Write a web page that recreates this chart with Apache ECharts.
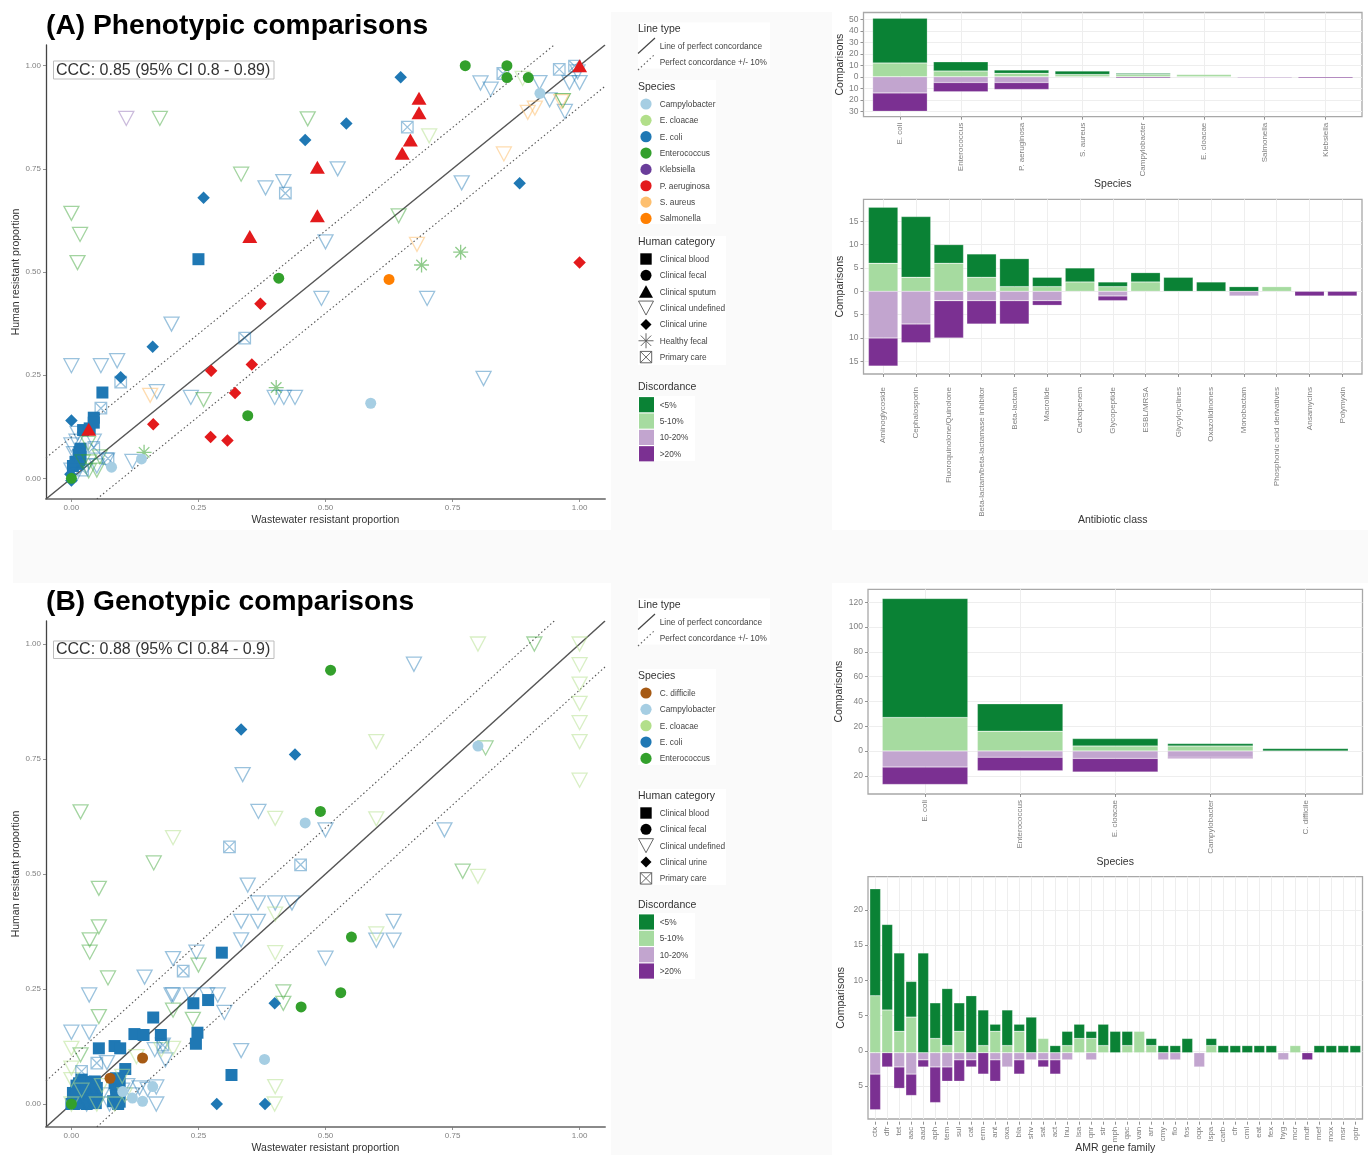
<!DOCTYPE html>
<html><head><meta charset="utf-8">
<style>html,body{margin:0;padding:0;background:#fff}#c{width:1368px;height:1155px}</style>
<script src="https://cdn.jsdelivr.net/npm/echarts@6/dist/echarts.min.js"></script>
</head><body><div id="c"></div>
<script>
// ---------- Panel A scatter values: [wastewater, human] ----------
const A_coli_undefined=[[.382,.704],[.417,.719],[.805,.958],[.825,.943],[.921,.959],[.941,.917],[.971,.889],[.98,.959],[1,.959],[.996,.985],[.524,.75],[.768,.716],[.5,.573],[.492,.436],[.7,.436],[.811,.242],[.197,.374],[0,.273],[.058,.273],[.09,.285],[.168,.21],[.235,.196],[.4,.196],[.418,.196],[.44,.196],[.12,.041],[0,.081],[.012,.109],[.01,.09],[0,.02],[.07,.044],[.044,.09],[.03,.03],[.01,.01],[.05,.03],[.005,.06]];
const A_cloacae_undefined=[[0,.642],[.017,.591],[.012,.523],[.174,.872],[.334,.737],[.465,.871],[.644,.636],[.26,.191],[.033,.085],[.022,.04],[.034,.018],[.05,.02],[.035,.04],[.056,.052]];
const A_cloacae_undefined_pale=[[.704,.83],[.888,.969]];
const A_entero_undefined=[[.967,.915]];
const A_kleb_undefined=[[.108,.872]];
const A_aureus_undefined=[[.898,.887],[.912,.897],[.964,.913],[.851,.786],[.68,.567],[.155,.201]];
const A_coli_primary=[[.849,.981],[.96,.991],[.99,.999],[.661,.851],[.421,.691],[.341,.34],[.097,.233],[.058,.17],[.044,.075],[.072,.048],[.022,.02]];
const A_coli_blood=[[.25,.531],[.061,.208],[.044,.147],[.023,.117],[.036,.121],[.044,.135],[.003,.03],[.016,.064],[.018,.052],[.012,.035],[.016,.044],[.018,.072],[.014,.057],[.008,.04]];
const A_coli_urine=[[.648,.972],[.541,.86],[.46,.82],[.882,.715],[.26,.68],[.16,.319],[.097,.245],[0,.14],[0,-.005],[-.002,.01]];
const A_paer_sputum=[[1,1],[.684,.921],[.684,.886],[.667,.82],[.651,.788],[.484,.754],[.484,.636],[.351,.586],[.034,.119]];
const A_paer_urine=[[1,.523],[.372,.423],[.275,.261],[.355,.276],[.322,.207],[.161,.131],[.274,.1],[.307,.092]];
const A_entero_fecal=[[.775,1],[.857,1],[.857,.971],[.899,.971],[.408,.485],[.347,.152],[0,0]];
const A_campy_fecal=[[.922,.933],[.589,.182],[.138,.047],[.079,.027]];
const A_salm_fecal=[[.625,.482]];
const A_entero_healthy=[[.766,.548],[.689,.517],[.403,.22],[.143,.063]];

// ---------- Panel B scatter values ----------
const B_coli_undefined=[[.674,.956],[.337,.716],[.368,.636],[.5,.596],[.734,.596],[.634,.397],[.6,.356],[.634,.356],[.5,.317],[.347,.476],[.367,.437],[.401,.437],[.434,.437],[.334,.397],[.367,.397],[.334,.357],[.246,.33],[.2,.316],[.144,.276],[.035,.237],[.197,.237],[.2,.237],[.235,.237],[.267,.237],[.288,.237],[.301,.199],[0,.156],[.035,.156],[.334,.116],[.167,0],[.167,.037],[.18,.128],[.164,.118],[.185,.096],[.134,.035],[.12,.02],[.15,.032],[.07,.09],[.1,.03],[.06,.02],[.03,.0],[.09,.015],[.11,.04],[.075,.0],[.045,.03]];
const B_cloacae_undefined=[[.018,.635],[.162,.524],[.054,.469],[.054,.385],[.036,.357],[.036,.33],[.072,.274],[.054,.19],[.25,.302],[.239,.184],[.417,.244],[.417,.219],[.911,1],[.77,.506],[.815,.774],[.2,.204],[.018,.107]];
const B_cloacae_undefined_pale=[[.8,1],[1,1],[1,.955],[1,.913],[1,.871],[1,.829],[1,.788],[1,.704],[.6,.788],[.6,.62],[.8,.495],[.6,.37],[.401,.621],[.2,.579],[.401,.413],[.401,.329],[.401,.038],[.4,0],[0,.121],[0,.078],[0,.053],[.2,.121],[.177,.118],[.128,.103],[0,.0],[.05,0],[.085,.0],[.105,.02],[.06,.04],[.1,.06],[.02,.03]];
const B_coli_primary=[[.311,.559],[.451,.52],[.22,.289],[.05,.089],[.02,.071],[.18,.128]];
const B_coli_blood=[[.296,.329],[.269,.226],[.24,.219],[.161,.188],[.248,.155],[.176,.15],[.124,.152],[.142,.15],[.245,.131],[.054,.121],[.085,.126],[.096,.121],[.106,.076],[.315,.063],[.046,.049],[.02,.053],[.003,.024],[.088,.056],[.088,.036],[.092,0],[.082,.006],[.005,0],[.01,.012],[.015,.022],[.02,.002],[.022,.032],[.026,.012],[.03,.022],[.03,0],[.035,.035],[.04,.01],[.04,.025],[.045,.04],[.05,.02],[.048,.002],[.01,.04],[.015,.045],[.028,.048],[.038,.002],[.012,.002],[0,0],[.005,.015],[.01,.03],[.02,.015],[.035,.02],[.045,.015],[.03,.035],[.04,.045],[.05,.035],[.088,.018],[.095,.005],[.085,.045],[.095,.05]];
const B_coli_urine=[[.334,.814],[.44,.76],[.4,.219],[.286,0],[.381,0]];
const B_entero_fecal=[[.51,.943],[.49,.636],[.551,.363],[.53,.242],[.452,.211],[0,0]];
const B_campy_fecal=[[.8,.778],[.46,.611],[.38,.097],[.16,.038],[.14,.006],[.12,.013],[.101,.027]];
const B_cdiff_fecal=[[.14,.1],[.076,.056]];

// ---------- Reference lines ----------
const perfectLine=[[-.05,-.05],[1.05,1.05]];
const upperLine=[[-.05,.05],[.95,1.05]];
const lowerLine=[[.05,-.05],[1.05,.95]];

// ---------- Bars: <5%, 5-10% above zero; 10-20%, >20% below zero ----------
const A_species=['E. coli','Enterococcus','P. aeruginosa','S. aureus','Campylobacter','E. cloacae','Salmonella','Klebsiella'];
const A_species_lt5=[39,8,3,3,1,0,0,0];
const A_species_5to10=[12,5,3,2,2,2,0,0];
const A_species_10to20=[14,5,5,0,0,0,1,0];
const A_species_gt20=[16,8,6,0,1,0,0,1];

const A_class=['Aminoglycoside','Cephalosporin','Fluoroquinolone/Quinolone','Beta-lactam/beta-lactamase inhibitor','Beta-lactam','Macrolide','Carbapenem','Glycopeptide','ESBL/MRSA','Glycylcyclines','Oxazolidinones','Monobactam','Phosphonic acid derivatives','Ansamycins','Polymyxin'];
const A_class_lt5=[12,13,4,5,6,2,3,1,2,3,2,1,0,0,0];
const A_class_5to10=[6,3,6,3,1,1,2,1,2,0,0,0,1,0,0];
const A_class_10to20=[10,7,2,2,2,2,0,1,0,0,0,1,0,0,0];
const A_class_gt20=[6,4,8,5,5,1,0,1,0,0,0,0,0,1,1];

const B_species=['E. coli','Enterococcus','E. cloacae','Campylobacter','C. difficile'];
const B_species_lt5=[96,22,6,2,2];
const B_species_5to10=[27,16,4,4,0];
const B_species_10to20=[13,5,6,5,0];
const B_species_gt20=[14,11,11,1,0];

const B_gene=['ctx','dfr','tet','aac','aad','aph','tem','sul','cat','erm','ant','oxa','bla','shv','sat','act','lnu','lsa','qnr','str','mph','qac','van','arr','cmy','flo','fos','oqx','lspa','carb','cfr','cml','eat','fex','hyg','mcr','mdf','mef','mox','msr','optr'];
const B_gene_lt5=[15,12,11,5,14,5,8,4,8,5,1,5,1,5,0,1,2,2,1,3,3,2,0,1,1,1,2,0,1,1,1,1,1,1,0,0,0,1,1,1,1];
const B_gene_5to10=[8,6,3,5,0,2,1,3,0,1,3,1,3,0,2,0,1,2,2,1,0,1,3,1,0,0,0,0,1,0,0,0,0,0,0,1,0,0,0,0,0];
const B_gene_10to20=[3,0,2,3,1,2,2,1,1,0,1,2,1,1,1,1,1,0,1,0,0,0,0,0,1,1,0,2,0,0,0,0,0,0,1,0,0,0,0,0,0];
const B_gene_gt20=[5,2,3,3,1,5,2,3,1,3,3,0,2,0,1,2,0,0,0,0,0,0,0,0,0,0,0,0,0,0,0,0,0,0,0,0,1,0,0,0,0];

// ---------- Tick labels ----------
const propTicks=[0,.25,.5,.75,1];
const A_species_ticks=[-30,-20,-10,0,10,20,30,40,50];
const A_class_ticks=[-15,-10,-5,0,5,10,15];
const B_species_ticks=[-20,0,20,40,60,80,100,120];
const B_gene_ticks=[-5,0,5,10,15,20];

// ---------- Styles ----------
const FONT='"Liberation Sans", Arial, sans-serif';
const C={campy:'#A6CEE3',cloacae:'#B2DF8A',coli:'#1F78B4',entero:'#33A02C',kleb:'#6A3D9A',paer:'#E31A1C',aureus:'#FDBF6F',salm:'#FF7F00',cdiff:'#A65A14'};
const D={lt5:'#0A8235',b5:'#A6DBA0',b10:'#C2A5CF',gt20:'#7B3092'};
const TRI_PATH='M0 0L10 0L5 9.5Z', BOX_PATH='M0 0L10 0L10 10L0 10Z M0 0L10 10 M10 0L0 10', STAR_PATH='M5 0L5 10 M0 5L10 5 M1.5 1.5L8.5 8.5 M1.5 8.5L8.5 1.5';
const SYM={
 undefined:{symbol:'path://'+TRI_PATH,size:[15,14],open:true},
 primary:{symbol:'path://'+BOX_PATH,size:[11.5,11.5],open:true},
 healthy:{symbol:'path://'+STAR_PATH,size:[15,15],open:true},
 blood:{symbol:'rect',size:12},
 fecal:{symbol:'circle',size:11},
 sputum:{symbol:'triangle',size:[15,13]},
 urine:{symbol:'diamond',size:[12.5,12.5]}
};
const series=[],xAxes=[],yAxes=[],grids=[];

function pts(gi,name,data,color,kind,op){
  const s=SYM[kind];
  series.push({type:'scatter',name,xAxisIndex:gi,yAxisIndex:gi,data,symbol:s.symbol,symbolSize:s.size,silent:true,clip:false,
    itemStyle:s.open?{color:'rgba(0,0,0,0)',borderColor:color,borderWidth:1.3,opacity:op==null?.5:op}:{color,opacity:op==null?1:op}});
}
function line(gi,name,data,dotted){
  series.push({type:'line',name,xAxisIndex:gi,yAxisIndex:gi,data,symbol:'none',silent:true,z:1,
    lineStyle:dotted?{color:'#555',width:1.1,type:[1.5,2.5]}:{color:'#555',width:1.5}});
}
function scatterGrid(top,h,gapX){
  const gi=grids.length;
  grids.push({left:46,top,width:559,height:h,containLabel:false});
  xAxes.push({gridIndex:gi,type:'value',min:-.05,max:1.05,name:'Wastewater resistant proportion',nameLocation:'middle',nameGap:gapX,nameTextStyle:{fontSize:10.5,color:'#333',fontFamily:FONT},
    axisLine:{onZero:false,lineStyle:{color:'#8a8a8a',width:2}},axisTick:{show:true,length:3,lineStyle:{color:'#777',width:.8},customValues:propTicks},
    axisLabel:{fontSize:8,color:'#808080',margin:5,customValues:propTicks,formatter:v=>v.toFixed(2)},splitLine:{show:false}});
  yAxes.push({gridIndex:gi,type:'value',min:-.05,max:1.05,name:'Human resistant proportion',nameLocation:'middle',nameGap:20,nameTextStyle:{fontSize:10.5,color:'#333',fontFamily:FONT},
    axisLine:{onZero:false,lineStyle:{color:'#444',width:1.3}},axisTick:{show:true,length:3,lineStyle:{color:'#777',width:.8},customValues:propTicks},
    axisLabel:{fontSize:8,color:'#808080',margin:5,customValues:propTicks,formatter:v=>v.toFixed(2)},splitLine:{show:false}});
  line(gi,'Line of perfect concordance',perfectLine,false);
  line(gi,'Perfect concordance +10%',upperLine,true);
  line(gi,'Perfect concordance -10%',lowerLine,true);
  return gi;
}
function barPanel(o){
  const n=o.cats.length,left=o.left,right=o.right,unit=(right-left)/(n-1+1.2),indices=o.cats.map((_,i)=>i);
  const f=grids.length;
  grids.push({left,top:o.top,width:right-left,height:o.bottom-o.top,show:true,borderColor:'#a8a8a8',borderWidth:1.3,backgroundColor:'#fff',containLabel:false});
  xAxes.push({gridIndex:f,type:'value',min:-.6,max:n-1+.6,name:o.xName,nameLocation:'middle',nameGap:o.nameGap,nameTextStyle:{fontSize:10.5,color:'#333',fontFamily:FONT},
    axisLine:{show:false,onZero:false},axisTick:{show:false,customValues:indices},axisLabel:{show:false,customValues:indices},splitLine:{show:true,lineStyle:{color:'#eeeeee',width:1}}});
  yAxes.push({gridIndex:f,type:'value',min:o.min,max:o.max,name:'Comparisons',nameLocation:'middle',nameGap:left-847,nameTextStyle:{fontSize:10.5,color:'#333',fontFamily:FONT},
    axisLine:{show:false,onZero:false},axisTick:{show:true,length:3,lineStyle:{color:'#777',width:.8},customValues:o.ticks},
    axisLabel:{fontSize:o.yFont||8.5,color:'#808080',margin:5,customValues:o.ticks,formatter:v=>String(Math.abs(v))},splitLine:{show:true,lineStyle:{color:'#eeeeee',width:1}}});
  const b=grids.length;
  grids.push({left:left+.1*unit,top:o.top,width:n*unit,height:o.bottom-o.top,containLabel:false});
  xAxes.push({gridIndex:b,type:'category',data:o.cats,position:'bottom',axisLine:{show:false,onZero:false},axisTick:{show:true,alignWithLabel:true,length:3,lineStyle:{color:'#777',width:.8}},
    axisLabel:{rotate:90,interval:0,fontSize:o.xFont||8,color:'#808080',margin:o.margin,hideOverlap:false},splitLine:{show:false}});
  yAxes.push({gridIndex:b,type:'value',min:o.min,max:o.max,show:false,splitLine:{show:false}});
  const neg=a=>a.map(v=>v===0?null:-v),pos=a=>a.map(v=>v===0?null:v);
  const bw=unit*.9;
  [['5-10%',pos(o.b5),D.b5],['<5%',pos(o.lt5),D.lt5],['10-20%',neg(o.b10),D.b10],['>20%',neg(o.gt20),D.gt20]].forEach(([nm,data,color])=>{
    series.push({type:'bar',name:nm,xAxisIndex:b,yAxisIndex:b,stack:'panel'+b,data,barWidth:bw,silent:true,itemStyle:{color,borderColor:'rgba(255,255,255,.45)',borderWidth:.5}});
  });
}

// ---- Panel A
const ga=scatterGrid(45,454,16);
pts(ga,'E. coli / Clinical blood',A_coli_blood,C.coli,'blood');
pts(ga,'E. coli / Clinical undefined',A_coli_undefined,C.coli,'undefined',.45);
pts(ga,'E. cloacae / Clinical undefined',A_cloacae_undefined,C.entero,'undefined',.45);
pts(ga,'E. cloacae / Clinical undefined (pale)',A_cloacae_undefined_pale,C.cloacae,'undefined',.5);
pts(ga,'Enterococcus / Clinical undefined',A_entero_undefined,C.entero,'undefined',.6);
pts(ga,'Klebsiella / Clinical undefined',A_kleb_undefined,C.kleb,'undefined',.35);
pts(ga,'S. aureus / Clinical undefined',A_aureus_undefined,C.aureus,'undefined',.55);
pts(ga,'E. coli / Primary care',A_coli_primary,C.coli,'primary',.45);
pts(ga,'Enterococcus / Healthy fecal',A_entero_healthy,C.entero,'healthy',.55);
pts(ga,'E. coli / Clinical urine',A_coli_urine,C.coli,'urine');
pts(ga,'P. aeruginosa / Clinical urine',A_paer_urine,C.paer,'urine');
pts(ga,'Campylobacter / Clinical fecal',A_campy_fecal,C.campy,'fecal');
pts(ga,'Salmonella / Clinical fecal',A_salm_fecal,C.salm,'fecal');
pts(ga,'Enterococcus / Clinical fecal',A_entero_fecal,C.entero,'fecal');
pts(ga,'P. aeruginosa / Clinical sputum',A_paer_sputum,C.paer,'sputum');

// ---- Panel B
const gb=scatterGrid(621,508,16);
pts(gb,'E. coli / Clinical blood',B_coli_blood,C.coli,'blood');
pts(gb,'E. coli / Clinical undefined',B_coli_undefined,C.coli,'undefined',.45);
pts(gb,'E. cloacae / Clinical undefined',B_cloacae_undefined,C.entero,'undefined',.45);
pts(gb,'E. cloacae / Clinical undefined (pale)',B_cloacae_undefined_pale,C.cloacae,'undefined',.5);
pts(gb,'E. coli / Primary care',B_coli_primary,C.coli,'primary',.45);
pts(gb,'E. coli / Clinical urine',B_coli_urine,C.coli,'urine');
pts(gb,'Campylobacter / Clinical fecal',B_campy_fecal,C.campy,'fecal');
pts(gb,'C. difficile / Clinical fecal',B_cdiff_fecal,C.cdiff,'fecal');
pts(gb,'Enterococcus / Clinical fecal',B_entero_fecal,C.entero,'fecal');

barPanel({cats:A_species,lt5:A_species_lt5,b5:A_species_5to10,b10:A_species_10to20,gt20:A_species_gt20,left:863.5,right:1362,top:12.5,bottom:116.7,min:-34.7,max:55.9,ticks:A_species_ticks,xName:'Species',nameGap:62,margin:6});
barPanel({cats:A_class,lt5:A_class_lt5,b5:A_class_5to10,b10:A_class_10to20,gt20:A_class_gt20,left:863.5,right:1362,top:199.3,bottom:374,min:-17.7,max:19.7,ticks:A_class_ticks,xName:'Antibiotic class',nameGap:141,margin:13});
barPanel({cats:B_species,lt5:B_species_lt5,b5:B_species_5to10,b10:B_species_10to20,gt20:B_species_gt20,left:868,right:1362.5,top:589.3,bottom:794,min:-34.7,max:130.4,ticks:B_species_ticks,xName:'Species',nameGap:63,margin:6});
barPanel({cats:B_gene,lt5:B_gene_lt5,b5:B_gene_5to10,b10:B_gene_10to20,gt20:B_gene_gt20,left:868,right:1362.5,top:876.7,bottom:1121.7,min:-9.68,max:24.7,ticks:B_gene_ticks,xName:'AMR gene family',nameGap:24,margin:5,xFont:8});

// ---- Background + legends (page furniture)
const g=[];
const rect=(x,y,w,h,fill,extra)=>g.push(Object.assign({type:'rect',shape:{x,y,width:w,height:h},style:{fill},silent:true,z:-10},extra||{}));
const text=(x,y,t,font,fill,extra)=>g.push({type:'text',x,y:y+.7,silent:true,z:50,style:Object.assign({text:t,font,fill,verticalAlign:'middle',align:'left'},extra||{})});
rect(611,12,221,1143,'#fafafa');
rect(13,530,1355,53,'#fafafa');
const LEG_T='10.5px '+FONT, LEG_I='8.3px '+FONT;
const poly=(cx,cy,pts_,style)=>g.push({type:'polygon',shape:{points:pts_.map(p=>[cx+p[0],cy+p[1]])},style,silent:true,z:50});
const seg=(x1,y1,x2,y2,st)=>g.push({type:'line',shape:{x1,y1,x2,y2},style:st,silent:true,z:50});
function glyph(kind,cx,cy){
  const black={fill:'#000'},open={fill:'none',stroke:'#555',lineWidth:.9},ls={stroke:'#555',lineWidth:.9};
  if(kind==='blood')poly(cx,cy,[[-5.7,-5.7],[5.7,-5.7],[5.7,5.7],[-5.7,5.7]],black);
  if(kind==='fecal')g.push({type:'circle',shape:{cx,cy,r:5.5},style:black,silent:true,z:50});
  if(kind==='sputum')poly(cx,cy,[[0,-6.5],[7,6],[-7,6]],black);
  if(kind==='undefined')poly(cx,cy,[[-7.5,-7],[7.5,-7],[0,7]],open);
  if(kind==='urine')poly(cx,cy,[[0,-5.5],[5.5,0],[0,5.5],[-5.5,0]],black);
  if(kind==='healthy'){seg(cx,cy-7.5,cx,cy+7.5,ls);seg(cx-7.5,cy,cx+7.5,cy,ls);seg(cx-5.2,cy-5.2,cx+5.2,cy+5.2,ls);seg(cx-5.2,cy+5.2,cx+5.2,cy-5.2,ls);}
  if(kind==='primary'){poly(cx,cy,[[-5.7,-5.7],[5.7,-5.7],[5.7,5.7],[-5.7,5.7]],open);seg(cx-5.7,cy-5.7,cx+5.7,cy+5.7,ls);seg(cx-5.7,cy+5.7,cx+5.7,cy-5.7,ls);}
}
function legend(dy,species,speciesColors,cats,yS,yC,yD,boxS,boxC,boxD){
  const IX=659.7,GX=646;
  rect(638,22.5+dy,132,46,'#fff');
  text(638,28.5+dy,'Line type',LEG_T,'#333');
  seg(638,53.5+dy,655,38+dy,{stroke:'#444',lineWidth:1.2});
  seg(638,70+dy,654,55+dy,{stroke:'#666',lineWidth:1.1,lineDash:[1.5,2.5]});
  text(IX,46+dy,'Line of perfect concordance',LEG_I,'#444');
  text(IX,62.5+dy,'Perfect concordance +/- 10%',LEG_I,'#444');
  rect(638,boxS[0],78,boxS[1]-boxS[0],'#fff');
  text(638,yS-18,'Species',LEG_T,'#333');
  species.forEach((s,i)=>{const y=yS+i*16.35;g.push({type:'circle',shape:{cx:GX,cy:y,r:5.6},style:{fill:speciesColors[i]},silent:true,z:50});text(IX,y,s,LEG_I,'#444');});
  rect(638,boxC[0],88,boxC[1]-boxC[0],'#fff');
  text(638,yC-18,'Human category',LEG_T,'#333');
  cats.forEach((c,i)=>{const y=yC+i*16.35;glyph(c[0],GX,y);text(IX,y,c[1],LEG_I,'#444');});
  rect(638,boxD[0],57,boxD[1]-boxD[0],'#fff');
  text(638,yD-18,'Discordance',LEG_T,'#333');
  [['<5%',D.lt5],['5-10%',D.b5],['10-20%',D.b10],['>20%',D.gt20]].forEach((d,i)=>{const y=yD+i*16.35;rect(639,y-7.6,15,15.2,d[1],{z:50});text(IX,y,d[0],LEG_I,'#444');});
}
const CAT_A=[['blood','Clinical blood'],['fecal','Clinical fecal'],['sputum','Clinical sputum'],['undefined','Clinical undefined'],['urine','Clinical urine'],['healthy','Healthy fecal'],['primary','Primary care']];
const CAT_B=[['blood','Clinical blood'],['fecal','Clinical fecal'],['undefined','Clinical undefined'],['urine','Clinical urine'],['primary','Primary care']];
legend(0,['Campylobacter','E. cloacae','E. coli','Enterococcus','Klebsiella','P. aeruginosa','S. aureus','Salmonella'],[C.campy,C.cloacae,C.coli,C.entero,C.kleb,C.paer,C.aureus,C.salm],CAT_A,104,259,404.7,[80,224],[236,365],[396,461]);
legend(576,['C. difficile','Campylobacter','E. cloacae','E. coli','Enterococcus'],[C.cdiff,C.campy,C.cloacae,C.coli,C.entero],CAT_B,693,813,922,[669,765],[789,885],[913,979]);
rect(53.5,61,220.5,18,'#fff',{z:40,style:{fill:'#fff',stroke:'#bdbdbd',lineWidth:1}});
text(56,69.8,'CCC: 0.85 (95% CI 0.8 - 0.89)','16px '+FONT,'#333');
rect(53.5,641,220.5,17.5,'#fff',{z:40,style:{fill:'#fff',stroke:'#bdbdbd',lineWidth:1}});
text(56,649.3,'CCC: 0.88 (95% CI 0.84 - 0.9)','16px '+FONT,'#333');

const chart=echarts.init(document.getElementById('c'),null,{renderer:'canvas'});
chart.setOption({
  animation:false,backgroundColor:'#fff',textStyle:{fontFamily:FONT},
  title:[
    {text:'(A) Phenotypic comparisons',left:46,top:12,padding:0,textStyle:{fontSize:28.2,fontWeight:'bold',color:'#000',fontFamily:FONT}},
    {text:'(B) Genotypic comparisons',left:46,top:588,padding:0,textStyle:{fontSize:28.2,fontWeight:'bold',color:'#000',fontFamily:FONT}}
  ],
  grid:grids,xAxis:xAxes,yAxis:yAxes,series,graphic:{elements:g}
});
</script></body></html>
